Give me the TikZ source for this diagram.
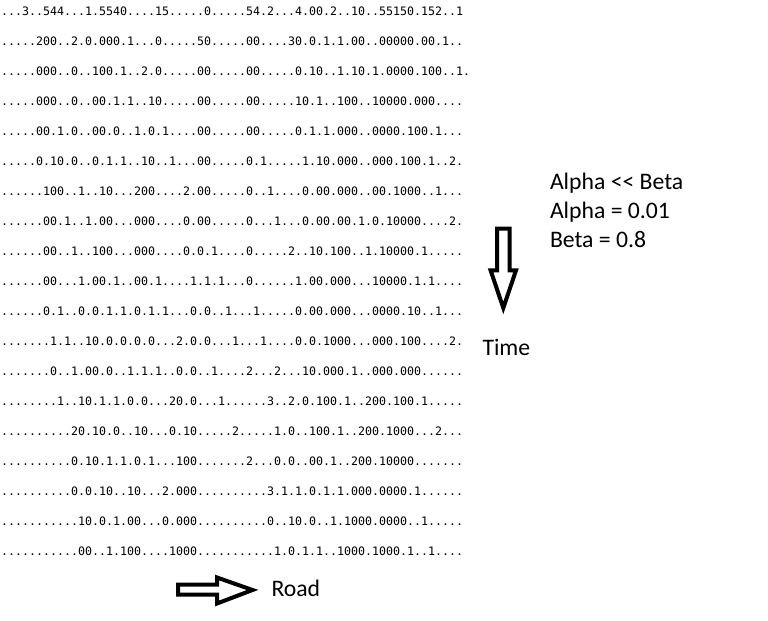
\documentclass[tikz,border=0pt]{standalone}
\usepackage{fontspec}
\newfontfamily\monof{DejaVu Sans Mono}
\newfontfamily\labf{Carlito}
\begin{document}
\begin{tikzpicture}[x=1bp,y=-1bp,
  rowtext/.style={anchor=base west,inner sep=0pt,outer sep=0pt,font=\monof\fontsize{11.63bp}{14bp}\selectfont,text=black},
  labtext/.style={anchor=base west,inner sep=0pt,outer sep=0pt,font=\labf\fontsize{23.7bp}{28bp}\selectfont,text=black},
  blockarrow/.style={draw=black,line width=4bp,line join=miter,miter limit=10}]
\useasboundingbox[fill=white] (0,0) rectangle (768,621);
\node[rowtext] (r1)  at (1,16.0)  {...3..544...1.5540....15.....0.....54.2...4.00.2..10..55150.152..1};
\node[rowtext] (r2)  at (1,46.0)  {.....200..2.0.000.1...0.....50.....00....30.0.1.1.00..00000.00.1..};
\node[rowtext] (r3)  at (1,75.9)  {.....000..0..100.1..2.0.....00.....00.....0.10..1.10.1.0000.100..1.};
\node[rowtext] (r4)  at (1,105.9) {.....000..0..00.1.1..10.....00.....00.....10.1..100..10000.000....};
\node[rowtext] (r5)  at (1,135.9) {.....00.1.0..00.0..1.0.1....00.....00.....0.1.1.000..0000.100.1...};
\node[rowtext] (r6)  at (1,165.9) {.....0.10.0..0.1.1..10..1...00.....0.1.....1.10.000..000.100.1..2.};
\node[rowtext] (r7)  at (1,195.8) {......100..1..10...200....2.00.....0..1....0.00.000..00.1000..1...};
\node[rowtext] (r8)  at (1,225.8) {......00.1..1.00...000....0.00.....0...1...0.00.00.1.0.10000....2.};
\node[rowtext] (r9)  at (1,255.8) {......00..1..100...000....0.0.1....0.....2..10.100..1.10000.1.....};
\node[rowtext] (r10) at (1,285.7) {......00...1.00.1..00.1....1.1.1...0......1.00.000...10000.1.1....};
\node[rowtext] (r11) at (1,315.7) {......0.1..0.0.1.1.0.1.1...0.0..1...1.....0.00.000...0000.10..1...};
\node[rowtext] (r12) at (1,345.7) {.......1.1..10.0.0.0.0...2.0.0...1...1....0.0.1000...000.100....2.};
\node[rowtext] (r13) at (1,375.6) {.......0..1.00.0..1.1.1..0.0..1....2...2...10.000.1..000.000......};
\node[rowtext] (r14) at (1,405.6) {........1..10.1.1.0.0...20.0...1......3..2.0.100.1..200.100.1.....};
\node[rowtext] (r15) at (1,435.6) {..........20.10.0..10...0.10.....2.....1.0..100.1..200.1000...2...};
\node[rowtext] (r16) at (1,465.5) {..........0.10.1.1.0.1...100.......2...0.0..00.1..200.10000.......};
\node[rowtext] (r17) at (1,495.5) {..........0.0.10..10...2.000..........3.1.1.0.1.1.000.0000.1......};
\node[rowtext] (r18) at (1,525.5) {...........10.0.1.00...0.000..........0..10.0..1.1000.0000..1.....};
\node[rowtext] (r19) at (1,555.5) {...........00..1.100....1000...........1.0.1.1..1000.1000.1..1....};
% labels
\node[labtext] (l1) at (550,190) {Alpha <\kern0pt< Beta};
\node[labtext] (l2) at (550,219) {Alpha = 0.01};
\node[labtext] (l3) at (550,247.5) {Beta = 0.8};
\node[labtext] (time) at (482.5,355) {Time};
\node[labtext] (road) at (271.5,596) {Road};
% down arrow (time)
\draw[blockarrow] (497,228.7) -- (509.7,228.7) -- (509.7,270.3) -- (516,270.3)
  -- (503.3,308) -- (490.6,270.3) -- (497,270.3) -- cycle;
% right arrow (road)
\draw[blockarrow] (178,584.7) -- (217,584.7) -- (217,577.5) -- (252.5,590)
  -- (217,603.5) -- (217,594.7) -- (178,594.7) -- cycle;
\end{tikzpicture}
\end{document}
